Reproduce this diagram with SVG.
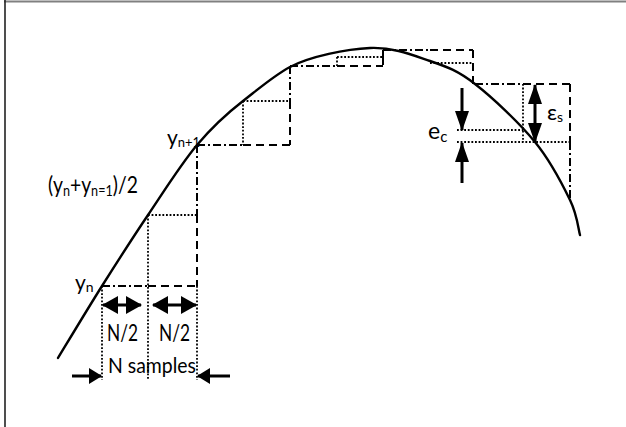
<svg xmlns="http://www.w3.org/2000/svg" width="626" height="427" viewBox="0 0 626 427">
<style>
.curve{fill:none;stroke:#000;stroke-width:2.4;stroke-linecap:round}
.dash{fill:none;stroke:#000;stroke-width:2;stroke-dasharray:8 5}
.dot{fill:none;stroke:#000;stroke-width:1.8;stroke-dasharray:1.8 1.8}
.dd{fill:none;stroke:#000;stroke-width:2;stroke-dasharray:8 3 2 3}
.arr{fill:none;stroke:#000;stroke-width:3}
text{font-family:Lato,"Open Sans","Liberation Sans",sans-serif;fill:#000}
</style>
<defs>
<marker id="ahH" viewBox="0 0 16 18" refX="15" refY="9" markerWidth="16" markerHeight="18" markerUnits="userSpaceOnUse" orient="auto-start-reverse">
<path d="M0,0 L16,9 L0,18 z" fill="#000"/>
</marker>
<marker id="ahS" viewBox="0 0 13 16" refX="12" refY="8" markerWidth="13" markerHeight="16" markerUnits="userSpaceOnUse" orient="auto-start-reverse">
<path d="M0,0 L13,8 L0,16 z" fill="#000"/>
</marker>
<marker id="ahV" viewBox="0 0 20 14" refX="19" refY="7" markerWidth="20" markerHeight="14" markerUnits="userSpaceOnUse" orient="auto-start-reverse">
<path d="M0,0 L20,7 L0,14 z" fill="#000"/>
</marker>
</defs>
<rect width="626" height="427" fill="#fff"/>
<g id="frame">
<line x1="4" y1="1.5" x2="626" y2="1.5" stroke="#808080" stroke-width="2"/>
<line x1="5" y1="0" x2="5" y2="427" stroke="#222" stroke-width="1.6"/>
</g>
<g id="steps">
<path class="dd" d="M102,286 H148"/>
<path class="dash" d="M148,286 H197"/>
<path class="dot" d="M102,286 V380"/>
<path class="dot" d="M148,215 V380"/>
<path class="dot" d="M148,215 H197"/>
<path class="dd" d="M197,145 V215"/>
<path class="dash" d="M197,215 V286"/>
<path class="dot" d="M197,286 V380"/>
<path class="dd" d="M197,145 H243"/>
<path class="dash" d="M243,145 H290"/>
<path class="dot" d="M243,101 V145"/>
<path class="dot" d="M243,101 H290"/>
<path class="dd" d="M290,66 V101"/>
<path class="dash" d="M290,101 V145"/>
<path class="dd" d="M290,66 H337"/>
<path class="dash" d="M337,66 H383"/>
<path class="dot" d="M337,57 V66"/>
<path class="dot" d="M337,57 H383"/>
<path class="dd" d="M383,50 V57"/>
<path class="dash" d="M383,57 V66"/>
<path class="dd" d="M383,50 H430"/>
<path class="dash" d="M430,50 H473"/>
<path class="dot" d="M430,63 H473"/>
<path class="dash" d="M473,50 V84"/>
<path class="dd" d="M475,84 H523"/>
<path class="dash" d="M523,84 H570"/>
<path class="dot" d="M523,84 V142"/>
<path class="dot" d="M457,130 H523"/>
<path class="dot" d="M457,142 H570"/>
<path class="dash" d="M570,84 V142"/>
<path class="dd" d="M570,142 V200"/>
</g>
<g id="curve">
<path class="curve" d="M58,358 C65.3,346 87,309.8 102,286 C117,262.2 132.2,238.5 148,215 C163.8,191.5 181.2,163.8 197,145 C212.8,126.2 227.5,113 243,101 C258.5,89 274,75.5 290,67 C310,56.4 346.7,49 370,48 C393.3,47 412.5,55 430,61 C447.5,67 457.5,70.5 475,84 C492.5,97.5 519.2,122.7 535,142 C550.8,161.3 562.5,184.5 570,200 C577.5,215.5 578.3,229.2 580,235"/>
</g>
<g id="connectors">
<line class="arr" x1="103" y1="305" x2="141" y2="305" marker-start="url(#ahH)" marker-end="url(#ahH)"/>
<line class="arr" x1="153" y1="305" x2="196" y2="305" marker-start="url(#ahH)" marker-end="url(#ahH)"/>
<line class="arr" x1="72" y1="376" x2="101" y2="376" marker-end="url(#ahS)"/>
<line class="arr" x1="230" y1="376" x2="198" y2="376" marker-end="url(#ahS)"/>
<line class="arr" x1="535" y1="85" x2="535" y2="142" marker-start="url(#ahV)" marker-end="url(#ahV)"/>
<line class="arr" x1="462" y1="88" x2="462" y2="130" marker-end="url(#ahV)"/>
<line class="arr" x1="462" y1="183" x2="462" y2="143" marker-end="url(#ahV)"/>
</g>
<g id="label-yn">
<text x="75" y="290" font-size="21">y<tspan font-size="14" dy="2">n</tspan></text>
</g>
<g id="label-yn1">
<text x="167" y="145" font-size="21">y<tspan font-size="13" dy="2">n+1</tspan></text>
</g>
<g id="label-mid">
<text transform="translate(48,193) scale(0.84,1)" x="0" y="0" font-size="23">(y<tspan font-size="15" dy="3">n</tspan><tspan dy="-3">+y</tspan><tspan font-size="15" dy="3">n=1</tspan><tspan dy="-3">)/2</tspan></text>
</g>
<g id="label-half1"><text x="107" y="341" font-size="23" textLength="31" lengthAdjust="spacingAndGlyphs">N/2</text></g>
<g id="label-half2"><text x="159" y="341" font-size="23" textLength="31" lengthAdjust="spacingAndGlyphs">N/2</text></g>
<g id="label-nsamples"><text x="108" y="373" font-size="22" textLength="88" lengthAdjust="spacingAndGlyphs">N samples</text></g>
<g id="label-ec"><text x="428" y="139" font-size="23">e<tspan font-size="15" dy="3">c</tspan></text></g>
<g id="label-es"><text x="547" y="120" font-size="22">ε<tspan font-size="14" dy="2">s</tspan></text></g>
</svg>
